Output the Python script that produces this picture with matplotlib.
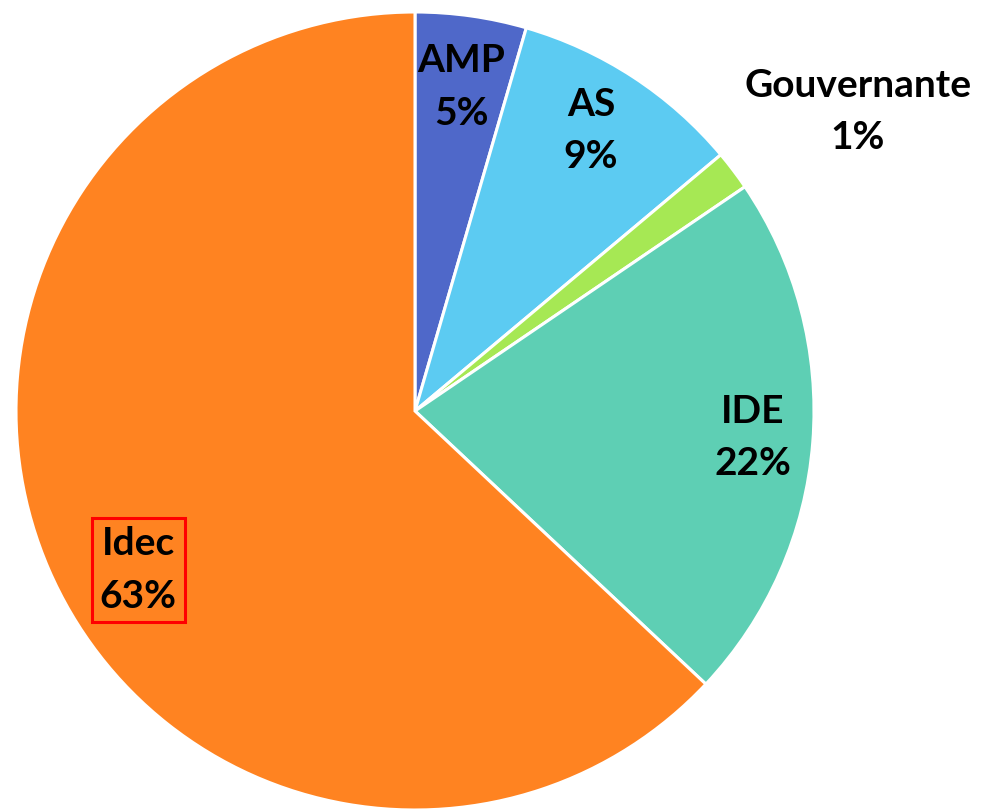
import numpy as np
import matplotlib.pyplot as plt

categories = ['AMP', 'AS', 'Gouvernante', 'IDE', 'Idec']
values = [4.5, 9.4, 1.6, 21.5, 63.0]
pct_labels = ['5%', '9%', '1%', '22%', '63%']
colors = ['#4F68C9', '#5CCBF2', '#A6E854', '#5ECFB4', '#FF8321']

# label placement: radial fraction and angle nudge (deg) per slice
label_r = [0.82, 0.83, 1.34, 0.85, 0.80]
label_nudge = [0, 1, -3, 0, 6.5]

plt.rcParams['font.family'] = ['Lato', 'DejaVu Sans']

fig = plt.figure(figsize=(9.85, 8.11), dpi=100)
ax = fig.add_axes([0, 0, 1, 1])

cx, cy, R = 415, 400, 399
wedges, _ = ax.pie(values, colors=colors, startangle=90, counterclock=False,
                   center=(cx, cy), radius=R, frame=True,
                   wedgeprops=dict(edgecolor='white', linewidth=2.2))
ax.set_xlim(0, 985)
ax.set_ylim(0, 811)
ax.set_aspect('equal')
ax.axis('off')

for i, w in enumerate(wedges):
    mid = np.deg2rad((w.theta1 + w.theta2) / 2 + label_nudge[i])
    x = cx + R * label_r[i] * np.cos(mid)
    y = cy + R * label_r[i] * np.sin(mid)
    t = ax.text(x, y, categories[i] + '\n' + pct_labels[i], ha='center', va='center',
                fontsize=28, fontweight='bold', linespacing=1.6, color='black')
    if categories[i] == 'Idec':
        t.set_bbox(dict(facecolor='none', edgecolor='#FF0000', linewidth=2.2, pad=6))

fig.savefig('out.png', dpi=100)
